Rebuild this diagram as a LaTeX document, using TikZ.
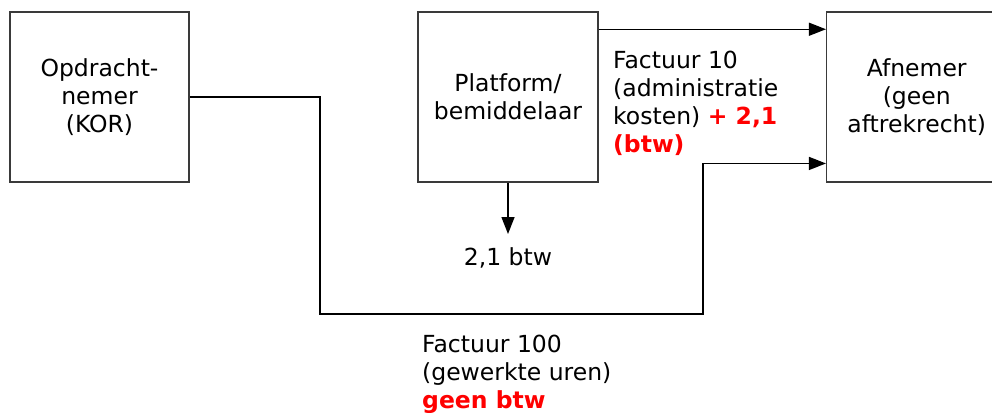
\documentclass[tikz,border=0pt]{standalone}
\usepackage{fontspec}
\setmainfont{DejaVu Sans}
\usetikzlibrary{arrows.meta}
\definecolor{boxgray}{HTML}{3A3A3A}
\definecolor{vred}{HTML}{FF0000}
\tikzset{
  box/.style={draw=boxgray, line width=1.5pt, minimum width=180pt, minimum height=170pt,
    inner sep=0pt, align=center, font=\fontsize{23.5}{28}\selectfont},
  lbl/.style={inner sep=0pt, align=left, font=\fontsize{23.5}{28}\selectfont},
  arr/.style={draw=black, line width=1.4pt, -{Triangle[length=17pt,width=13pt]}},
}
\newcommand{\hl}[1]{\textcolor{vred}{\bfseries #1}}
\begin{document}
\begin{tikzpicture}[x=1pt,y=-1pt]
\useasboundingbox (0,0) rectangle (992,412);
\clip (0,0) rectangle (992,412);
\fill[white] (0,0) rectangle (992,412);
\node[box, minimum width=179pt] (b1) at (99.5,97) {Opdracht-\\nemer\\(KOR)};
\node[box] (b2) at (508,97) {Platform/\\bemiddelaar};
\node[box] (b3) at (916.7,97) {Afnemer\\(geen\\aftrekrecht)};
\coordinate (k1) at (320,314);
\coordinate (k2) at (703,314);
\coordinate (tip) at (508,234);
\draw[arr] (b1.east) -| (k1) -- (k2) |- ([yshift=19.3pt]b3.south west);
\draw[arr] ([yshift=-18pt]b2.north east) -- ([yshift=-18pt]b3.north west);
\draw[arr] (b2.south) -- (tip);
\node[lbl, anchor=north] (t21) at (508,247) {2,1 btw};
\node[lbl, anchor=north west] (f10) at (613,51) {Factuur 10\\(administratie\\kosten) \hl{+ 2,1}\\\hl{(btw)}};
\node[lbl, anchor=north west] (f100) at (422,335) {Factuur 100\\(gewerkte uren)\\\hl{geen btw}};
\end{tikzpicture}
\end{document}
